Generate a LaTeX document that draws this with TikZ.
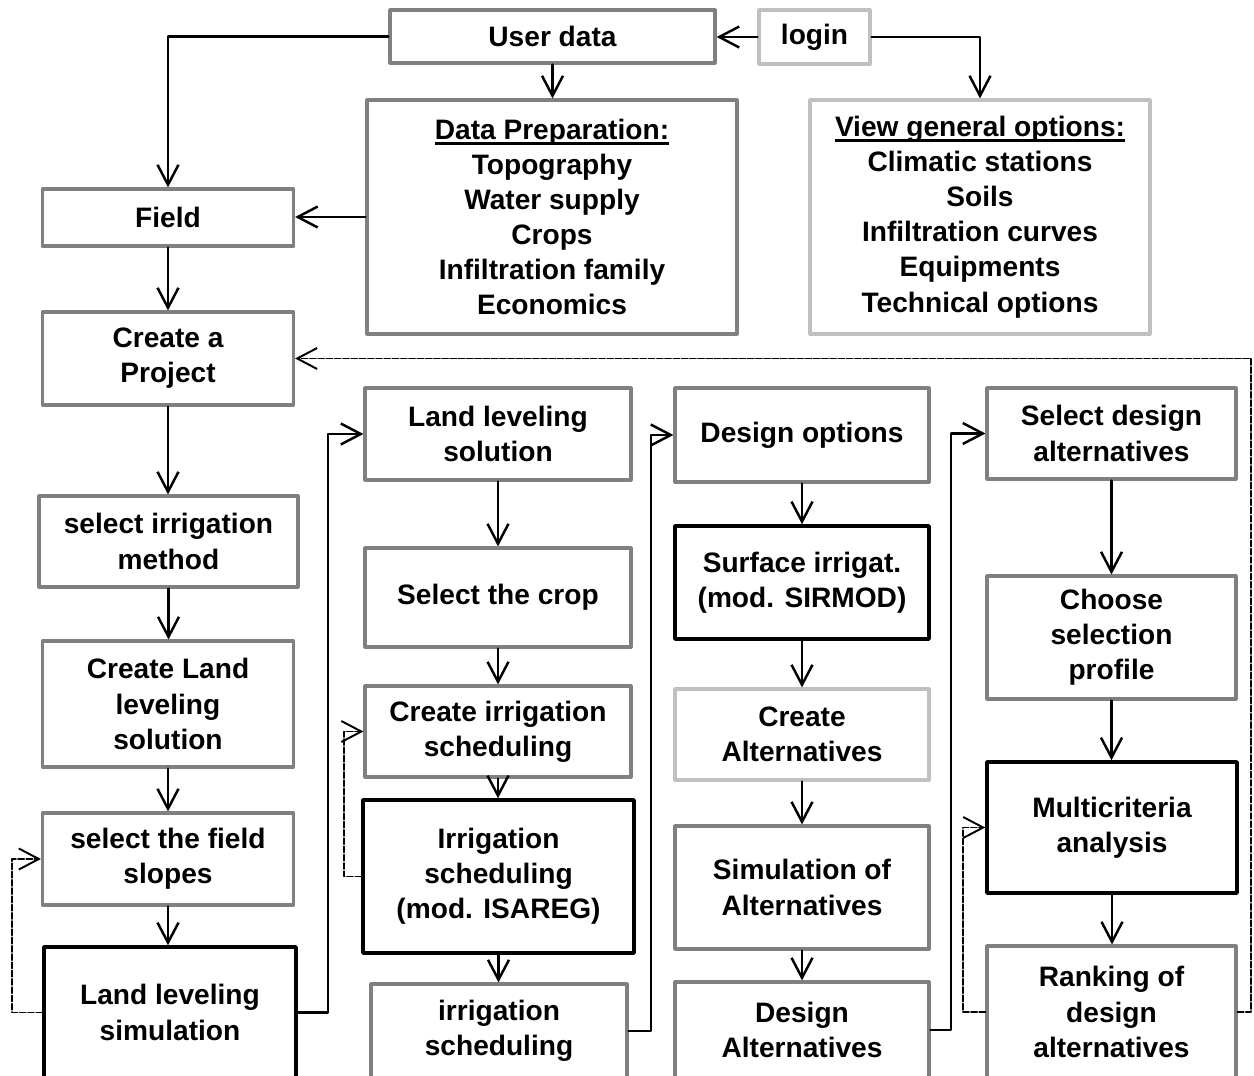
\documentclass[tikz,border=0pt]{standalone}
\usepackage[svgnames]{xcolor}
\usepackage{fontspec}
\setmainfont{Liberation Sans}
\usepackage{tikz}
\usetikzlibrary{arrows.meta}
\usetikzlibrary{calc}

\newcommand{\ulhead}[1]{\setbox0\hbox{#1}\rlap{\rule[-3.2pt]{\wd0}{1.6pt}}\box0}

\begin{document}
\begin{tikzpicture}[line cap=round,line join=round,>={Straight Barb[length=0.4cm,width=0.42cm]},x=0.02cm,y=-0.02cm,
  gbox/.style={draw=Gray,line width=1.8pt,align=center,inner sep=0pt,font=\bfseries\fontsize{16}{20}\selectfont},
  lbox/.style={gbox,draw=Silver},
  kbox/.style={gbox,draw=black,line width=2pt},
  wh/.style 2 args={minimum width=#1*0.02cm,minimum height=#2*0.02cm},
  flow/.style={->,line width=1.4pt},
  back/.style={->,line width=1.1pt,dash pattern=on 3.4pt off 1.3pt}]
\useasboundingbox (0,0) rectangle (1254,1075);
\clip (0,0) rectangle (1254,1075);
% top row
\node[gbox,wh={325}{53}] (userdata) at (552.5,36.5) {User data};
\node[lbox,wh={111}{54}] (login) at (814.5,37) {login};
\node[gbox,wh={370}{234}] (dataprep) at (552,217) {\ulhead{Data Preparation:}\\Topography\\Water supply\\Crops\\Infiltration family\\Economics};
\node[lbox,wh={340}{234}] (viewopt) at (980,217) {\ulhead{View general options:}\\Climatic stations\\Soils\\Infiltration curves\\Equipments\\Technical options};
% column 1
\node[gbox,wh={251}{57}] (field) at (168,217.5) {Field};
\node[gbox,wh={251}{93}] (project) at (168,358.5) {Create a\\Project};
\node[gbox,wh={259}{91}] (method) at (168.5,541.5) {select irrigation\\method};
\node[gbox,wh={251}{126}] (createland) at (168,704) {Create Land\\leveling\\solution};
\node[gbox,wh={251}{92}] (slopes) at (168,859) {select the field\\slopes};
\node[kbox,wh={252}{131}] (landsim) at (170,1012.5) {Land leveling\\simulation};
% column 2
\node[gbox,wh={266}{92}] (llsol) at (498,434) {Land leveling\\solution};
\node[gbox,wh={266}{99}] (crop) at (498,597.5) {Select the crop};
\node[gbox,wh={266}{91}] (cis) at (498,731.5) {Create irrigation\\scheduling};
\node[kbox,wh={271}{153}] (isareg) at (498.5,876.5) {Irrigation\\scheduling\\(mod. ISAREG)};
\node[gbox,wh={256}{94}] (irrsch) at (499,1031) {irrigation\\scheduling};
% column 3
\node[gbox,wh={254}{94}] (dopt) at (802,435) {Design options};
\node[kbox,wh={254}{113}] (surf) at (802,582.5) {Surface irrigat.\\(mod. SIRMOD)};
\node[lbox,wh={254}{91}] (calt) at (802,734.5) {Create\\Alternatives};
\node[gbox,wh={254}{123}] (simalt) at (802,887.5) {Simulation of\\Alternatives};
\node[gbox,wh={254}{96}] (dalt) at (802,1030) {Design\\Alternatives};
% column 4
\node[gbox,wh={249}{91}] (sda) at (1111.5,433.5) {Select design\\alternatives};
\node[gbox,wh={249}{123}] (choose) at (1111.5,637.5) {Choose\\selection\\profile};
\node[kbox,wh={250}{131}] (multi) at (1112,827.5) {Multicriteria\\analysis};
\node[gbox,wh={249}{132}] (rank) at (1111.5,1012) {Ranking of\\design\\alternatives};
% bend points
\coordinate (jA) at (328,0);
\coordinate (jB) at (651,0);
\coordinate (jC) at (951,0);
\coordinate (jD) at (1251,0);
\coordinate (dA) at (12,0);
\coordinate (dB) at (344,0);
\coordinate (dC) at (963,0);
% connectors
\draw[flow] (login.west) -- (userdata.east|-login.west);
\draw[flow] (login.east) -| (viewopt.north);
\draw[flow] (userdata.south) -- (userdata.south|-dataprep.north);
\draw[flow] (userdata.west) -| (field.north);
\draw[flow] (dataprep.west) -- (dataprep.west-|field.east);
\foreach \a/\b in {field/project,project/method,method/createland,createland/slopes,slopes/landsim,
  llsol/crop,crop/cis,cis/isareg,isareg/irrsch,dopt/surf,surf/calt,calt/simalt,simalt/dalt,
  sda/choose,choose/multi,multi/rank}
\draw[flow] (\a.south) -- (\a.south|-\b.north);
\foreach \a/\j/\b in {landsim/jA/llsol,irrsch/jB/dopt,dalt/jC/sda}
\draw[flow] (\a.east) -| (\j|-\b.west) -- (\b.west);
\draw[back] (rank.east) -| (jD|-project.east) -- (project.east);
\draw[back] (landsim.west) -| (dA|-slopes.west) -- (slopes.west);
\draw[back] (isareg.west) -| (dB|-cis.west) -- (cis.west);
\draw[back] (rank.west) -| (dC|-multi.west) -- (multi.west);
\end{tikzpicture}
\end{document}
